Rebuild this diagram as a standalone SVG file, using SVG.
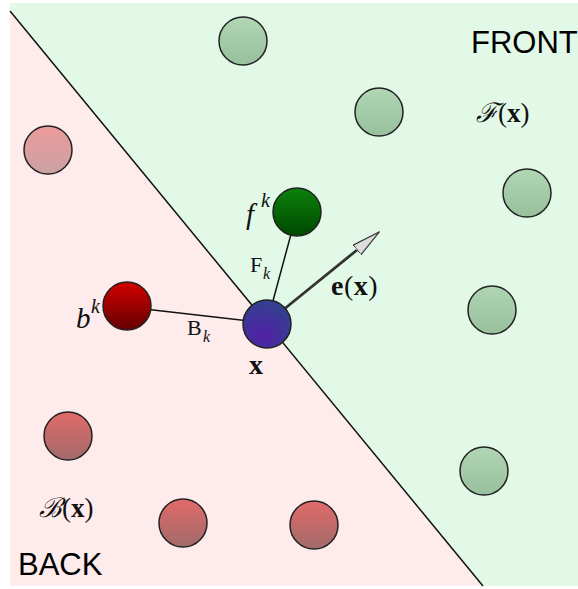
<svg xmlns="http://www.w3.org/2000/svg" width="578" height="589" viewBox="0 0 578 589">
<defs>
<linearGradient id="gFade" x1="0" y1="0" x2="0" y2="1"><stop offset="0" stop-color="#b0d6b3"/><stop offset="1" stop-color="#98c09c"/></linearGradient>
<linearGradient id="pFade" x1="0" y1="0" x2="0" y2="1"><stop offset="0" stop-color="#eb9a9c"/><stop offset="1" stop-color="#cca2a2"/></linearGradient>
<linearGradient id="rFade" x1="0" y1="0" x2="0" y2="1"><stop offset="0" stop-color="#e26a6a"/><stop offset="1" stop-color="#a26a6a"/></linearGradient>
<linearGradient id="gDark" x1="0" y1="0" x2="0" y2="1"><stop offset="0" stop-color="#0b820b"/><stop offset="1" stop-color="#004800"/></linearGradient>
<linearGradient id="rDark" x1="0" y1="0" x2="0" y2="1"><stop offset="0" stop-color="#d20000"/><stop offset="1" stop-color="#650000"/></linearGradient>
<radialGradient id="xGrad" cx="0.4" cy="0.75" r="0.8"><stop offset="0" stop-color="#5220a8"/><stop offset="1" stop-color="#30438c"/></radialGradient>
<marker id="arrow" viewBox="0 0 30 14" refX="0" refY="7" markerWidth="30" markerHeight="14" markerUnits="userSpaceOnUse" orient="auto">
<path d="M0,0.8 L29,7 L0,13.2 z" fill="#dcdcdc" stroke="#333" stroke-width="1.2"/>
</marker>
<style>
.node{stroke:#222;stroke-width:1.5}
.conn{stroke:#111;stroke-width:1.5;fill:none}
.big{font-family:"Liberation Sans",Arial,sans-serif;font-size:31px;fill:#000}
.m{font-family:"Liberation Serif","DejaVu Serif",serif;fill:#111}
.it{font-style:italic}
.bf{font-weight:bold}
</style>
</defs>
<g id="background">
<rect x="0" y="0" width="578" height="589" fill="#ffffff"/>
<polygon points="10,3 578,3 578,586 483,586 10,11" fill="#e3f9e8"/>
<polygon points="10,11 483,586 10,586" fill="#feebeb"/>
<line x1="10" y1="11" x2="483" y2="586" stroke="#111" stroke-width="1.5"/>
</g>
<g id="connectors">
<line class="conn" x1="127" y1="307" x2="267" y2="323"/>
<line class="conn" x1="297" y1="212" x2="267" y2="323"/>
<line x1="267" y1="323" x2="357" y2="250" stroke="#333" stroke-width="2.8" marker-end="url(#arrow)"/>
</g>
<g id="node-front-1"><circle class="node" cx="243" cy="41" r="24" fill="url(#gFade)"/></g>
<g id="node-front-2"><circle class="node" cx="379" cy="112" r="24" fill="url(#gFade)"/></g>
<g id="node-front-3"><circle class="node" cx="527" cy="193" r="24" fill="url(#gFade)"/></g>
<g id="node-front-4"><circle class="node" cx="492" cy="310" r="24" fill="url(#gFade)"/></g>
<g id="node-front-5"><circle class="node" cx="484" cy="471" r="24" fill="url(#gFade)"/></g>
<g id="node-back-1"><circle class="node" cx="48" cy="150" r="24" fill="url(#pFade)"/></g>
<g id="node-back-2"><circle class="node" cx="68" cy="436" r="24" fill="url(#rFade)"/></g>
<g id="node-back-3"><circle class="node" cx="183" cy="523" r="24" fill="url(#rFade)"/></g>
<g id="node-back-4"><circle class="node" cx="314" cy="525" r="24" fill="url(#rFade)"/></g>
<g id="node-fk">
<circle class="node" cx="297" cy="212" r="24" fill="url(#gDark)"/>
<text class="m it" x="246" y="224" font-size="29">f</text>
<text class="m it" x="261" y="207" font-size="20">k</text>
</g>
<g id="node-bk">
<circle class="node" cx="127" cy="306" r="24" fill="url(#rDark)"/>
<text class="m it" x="76" y="328" font-size="29">b</text>
<text class="m it" x="91" y="313" font-size="20">k</text>
</g>
<g id="node-x">
<circle class="node" cx="267" cy="324" r="24" fill="url(#xGrad)"/>
<text class="m bf" x="249" y="374" font-size="28">x</text>
</g>
<g id="labels">
<text class="m" x="250" y="272" font-size="22">F</text>
<text class="m it" x="263" y="279" font-size="16">k</text>
<text class="m" x="187" y="335" font-size="22">B</text>
<text class="m it" x="203" y="342" font-size="16">k</text>
<text class="m" x="331" y="295" font-size="28" letter-spacing="0.5"><tspan class="bf">e</tspan>(<tspan class="bf">x</tspan>)</text>
<text class="m" x="476" y="122" font-size="27"><tspan class="it">ℱ</tspan>(<tspan class="bf">x</tspan>)</text>
<text class="m" x="39" y="517" font-size="27"><tspan class="it">ℬ</tspan>(<tspan class="bf">x</tspan>)</text>
<text class="big" x="471" y="53">FRONT</text>
<text class="big" x="18" y="575">BACK</text>
</g>
</svg>
